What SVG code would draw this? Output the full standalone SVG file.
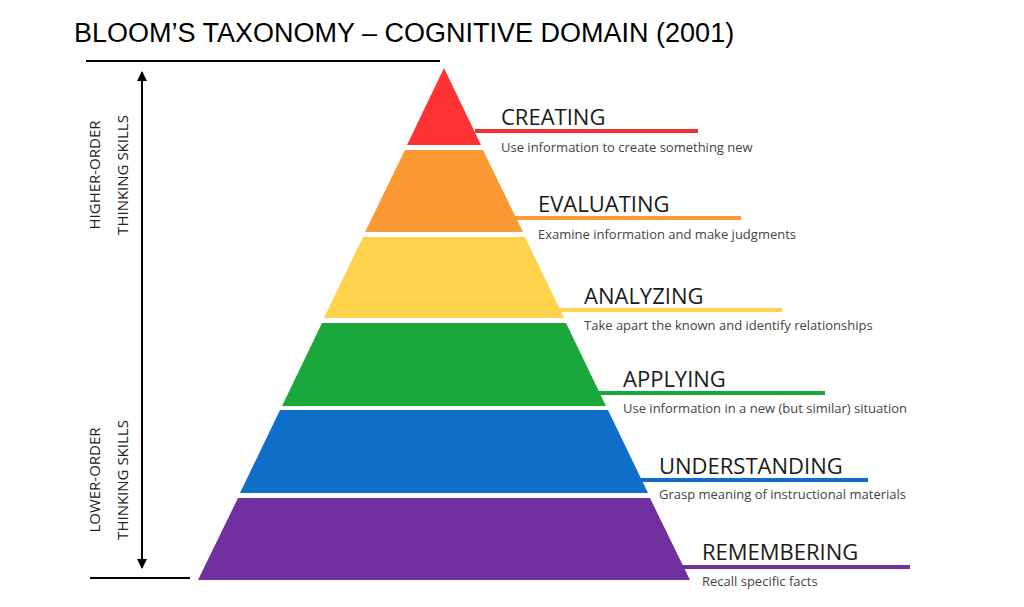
<svg xmlns="http://www.w3.org/2000/svg" width="1024" height="607" viewBox="0 0 1024 607">
<defs>
<style>
.t{font-family:"Open Sans","Liberation Sans",sans-serif;fill:#1a1a1a}
.h{font-size:22px}
.d{font-size:13px;fill:#444}
.s{font-family:"Open Sans","Liberation Sans",sans-serif;font-size:15px;fill:#222}
</style>
<marker id="ah" viewBox="0 0 10 10" refX="9" refY="5" markerWidth="5" markerHeight="5" orient="auto-start-reverse"><path d="M0,0L10,5L0,10z" fill="#000"/></marker>
</defs>
<rect width="1024" height="607" fill="#fff"/>
<text x="74" y="42" font-family="Liberation Sans,Arial,sans-serif" font-size="27" fill="#000">BLOOM’S TAXONOMY – COGNITIVE DOMAIN (2001)</text>
<g id="connectors" stroke="#000" fill="none">
<line x1="86" y1="61" x2="440" y2="61" stroke-width="2"/>
<line x1="90" y1="578" x2="190" y2="578" stroke-width="2"/>
<line x1="142" y1="72" x2="142" y2="568" stroke-width="2" marker-start="url(#ah)" marker-end="url(#ah)"/>
</g>
<g id="side-labels">
<text class="s" transform="translate(100,175) rotate(-90)" text-anchor="middle">HIGHER-ORDER</text>
<text class="s" transform="translate(128,175) rotate(-90)" text-anchor="middle">THINKING SKILLS</text>
<text class="s" transform="translate(100,480) rotate(-90)" text-anchor="middle">LOWER-ORDER</text>
<text class="s" transform="translate(128,480) rotate(-90)" text-anchor="middle">THINKING SKILLS</text>
</g>
<g id="creating">
<polygon points="444,68 481,145 407,145" fill="#ff3333"/>
<rect x="475" y="129" width="223" height="4" fill="#ee3333"/>
<text class="t h" x="501" y="125">CREATING</text>
<text class="t d" x="501" y="152">Use information to create something new</text>
</g>
<g id="evaluating">
<polygon points="405,150 483,150 523,232 365,232" fill="#fb9a34"/>
<rect x="515" y="216" width="226" height="4" fill="#fb9a34"/>
<text class="t h" x="538" y="212">EVALUATING</text>
<text class="t d" x="538" y="239">Examine information and make judgments</text>
</g>
<g id="analyzing">
<polygon points="363,237 525,237 564,318 324,318" fill="#ffd24d"/>
<rect x="556" y="308" width="226" height="4" fill="#ffd24d"/>
<text class="t h" x="584" y="304">ANALYZING</text>
<text class="t d" x="584" y="330">Take apart the known and identify relationships</text>
</g>
<g id="applying">
<polygon points="322,323 566,323 606,406 282,406" fill="#1aa83c"/>
<rect x="598" y="391" width="227" height="4" fill="#1aa83c"/>
<text class="t h" x="623" y="387">APPLYING</text>
<text class="t d" x="623" y="413">Use information in a new (but similar) situation</text>
</g>
<g id="understanding">
<polygon points="280,410 608,410 648,493 240,493" fill="#0f6ec8"/>
<rect x="640" y="478" width="228" height="4" fill="#0f6ec8"/>
<text class="t h" x="659" y="474">UNDERSTANDING</text>
<text class="t d" x="659" y="499">Grasp meaning of instructional materials</text>
</g>
<g id="remembering">
<polygon points="238,498 650,498 690,580 198,580" fill="#7030a0"/>
<rect x="682" y="565" width="228" height="4" fill="#7030a0"/>
<text class="t h" x="702" y="560">REMEMBERING</text>
<text class="t d" x="702" y="586">Recall specific facts</text>
</g>
</svg>
